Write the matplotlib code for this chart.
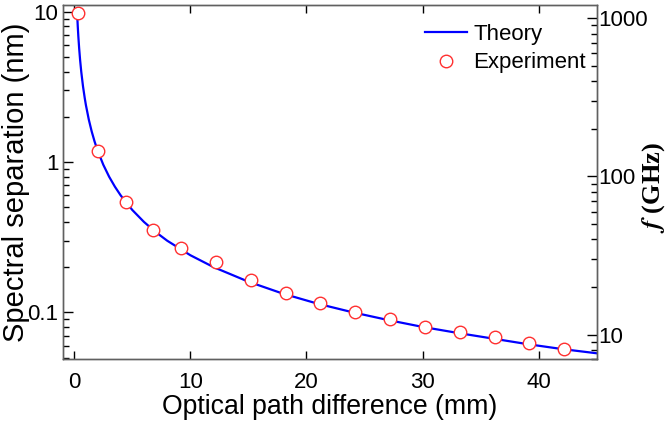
import matplotlib
matplotlib.use("Agg")
import matplotlib.pyplot as plt
from matplotlib.ticker import FixedLocator, FixedFormatter, LogLocator, NullFormatter

plt.rcParams['font.family'] = ['Liberation Sans', 'DejaVu Sans']
plt.rcParams['mathtext.fontset'] = 'stix'

# Theory curve
theory_x = [0.25, 0.3, 0.35, 0.42, 0.5, 0.6, 0.75, 0.9, 1.0, 1.25, 1.5, 1.75, 2.0, 2.5, 3.0, 3.5,
            4.0, 5.0, 6.0, 7.0, 8.0, 10.0, 12.0, 15.0, 18.0, 21.0, 24.0, 27.0, 30.0, 33.0,
            36.0, 39.0, 42.0, 45.0]
theory_y = [9.6, 8.0, 6.86, 5.72, 4.8, 4.0, 3.2, 2.67, 2.4, 1.92, 1.6, 1.37, 1.2, 0.96, 0.80, 0.686,
            0.60, 0.48, 0.40, 0.343, 0.30, 0.24, 0.20, 0.16, 0.133, 0.114, 0.100, 0.089, 0.080,
            0.073, 0.067, 0.0615, 0.057, 0.0534]

# Experiment points
exp_x = [0.29, 2.07, 4.45, 6.8, 9.2, 12.2, 15.2, 18.2, 21.2, 24.2, 27.2, 30.2, 33.2, 36.2, 39.2, 42.2]
exp_y = [9.85, 1.18, 0.54, 0.353, 0.267, 0.217, 0.165, 0.134, 0.116, 0.100, 0.0898, 0.0802,
         0.0736, 0.0685, 0.0628, 0.0573]

left_ticks = [0.1, 1, 10]
left_labels = ['0.1', '1', '10']
right_ticks = [10, 100, 1000]
right_labels = ['10', '100', '1000']
x_ticks = [0, 10, 20, 30, 40]

fig = plt.figure(figsize=(6.66, 4.25), dpi=100)
ax = fig.add_axes([0.0941, 0.1546, 0.896 - 0.0941, 0.9894 - 0.1546])

ax.plot(theory_x, theory_y, color='#0000ff', lw=1.6, label='Theory', zorder=2)
ax.plot(exp_x, exp_y, linestyle='none', marker='o', markersize=9, markerfacecolor='white',
        markeredgecolor='#ff3030', markeredgewidth=1.0, label='Experiment', zorder=3)

ax.set_yscale('log')
ax.set_xlim(-1, 45)
ax.set_ylim(0.0487, 11.2)
ax.set_xticks(x_ticks)
ax.yaxis.set_major_locator(FixedLocator(left_ticks))
ax.yaxis.set_major_formatter(FixedFormatter(left_labels))
ax.yaxis.set_minor_locator(LogLocator(base=10, subs=range(2, 10)))
ax.yaxis.set_minor_formatter(NullFormatter())

ax.tick_params(axis='x', which='both', direction='in', top=True, bottom=True,
               length=6, width=1, labelsize=16, pad=9)
ax.tick_params(axis='y', which='major', direction='in', left=True, right=False,
               length=7, width=1, labelsize=16, pad=3)
ax.tick_params(axis='y', which='minor', direction='in', left=True, right=False,
               length=4, width=1)

for s in ax.spines.values():
    s.set_color('#606060')
    s.set_linewidth(1.0)

ax.set_xlabel('Optical path difference (mm)', fontsize=19.2, labelpad=1)
fig.text(16 / 666, 1 - 182 / 425, 'Spectral separation (nm)', fontsize=21,
         rotation=90, ha='center', va='center')

ax2 = ax.twinx()
ax2.set_yscale('log')
ax2.set_ylim(7.0, 1220)
ax2.yaxis.set_major_locator(FixedLocator(right_ticks))
ax2.yaxis.set_major_formatter(FixedFormatter(right_labels))
ax2.yaxis.set_minor_locator(LogLocator(base=10, subs=range(2, 10)))
ax2.yaxis.set_minor_formatter(NullFormatter())
ax2.tick_params(axis='y', which='major', direction='in', length=7, width=1, labelsize=16, pad=1)
ax2.tick_params(axis='y', which='minor', direction='in', length=4, width=1)
for s in ax2.spines.values():
    s.set_color('#606060')
    s.set_linewidth(1.0)
fig.text(654 / 666, 1 - 188 / 425, r'$\mathbfit{f}$ (GHz)', fontsize=19,
         fontfamily='Liberation Serif', fontweight='bold', rotation=90,
         ha='center', va='center')

leg = ax.legend(loc='upper right', bbox_to_anchor=(0.997, 0.971), frameon=False,
                fontsize=16, handlelength=1.9, handletextpad=0.3, borderaxespad=0.0,
                borderpad=0.4, labelspacing=0.35)

fig.savefig('out.png', dpi=100)
